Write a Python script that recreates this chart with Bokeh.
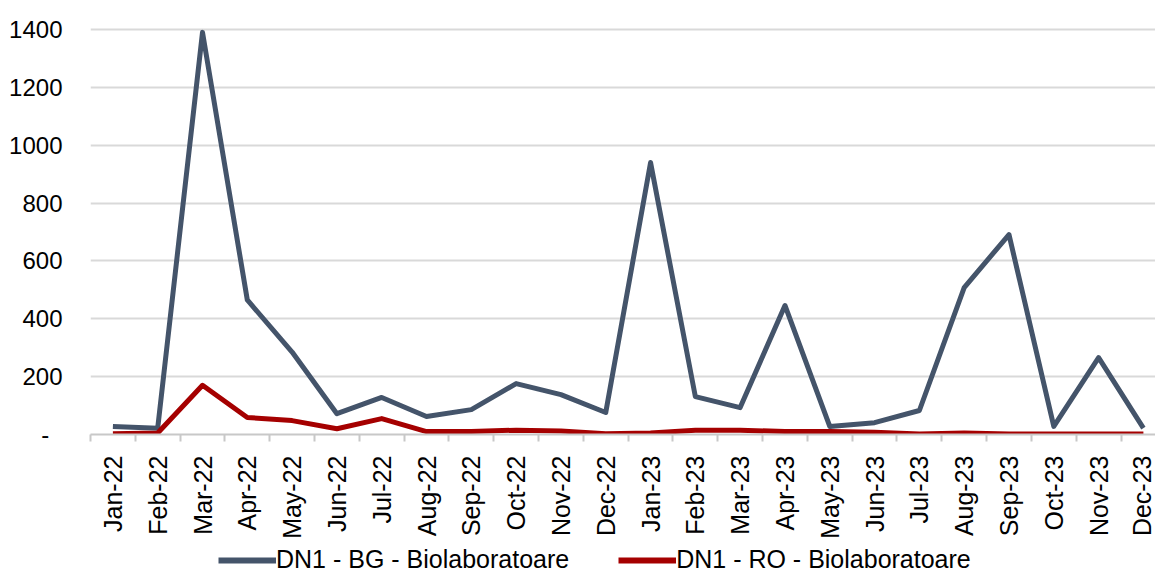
import math
from bokeh.plotting import figure
from bokeh.layouts import column
from bokeh.models import Range1d, FixedTicker, Legend, LegendItem
from bokeh.embed import file_html
from bokeh.resources import INLINE

months = ["Jan-22", "Feb-22", "Mar-22", "Apr-22", "May-22", "Jun-22", "Jul-22", "Aug-22",
          "Sep-22", "Oct-22", "Nov-22", "Dec-22", "Jan-23", "Feb-23", "Mar-23", "Apr-23",
          "May-23", "Jun-23", "Jul-23", "Aug-23", "Sep-23", "Oct-23", "Nov-23", "Dec-23"]
bg_values = [28, 22, 1390, 465, 285, 72, 128, 62, 86, 176, 138, 76,
             940, 131, 93, 446, 28, 41, 83, 508, 691, 28, 266, 22]
ro_values = [3, 5, 170, 59, 48, 20, 55, 10, 10, 15, 12, 3,
             5, 15, 15, 10, 10, 8, 2, 5, 2, 2, 2, 2]
y_ticks = [0, 200, 400, 600, 800, 1000, 1200, 1400]
series_names = ["DN1 - BG - Biolaboratoare", "DN1 - RO - Biolaboratoare"]

FONT = "Liberation Sans"
BG_COLOR = "#44546A"
RO_COLOR = "#A50000"
xs = list(range(len(months)))

p = figure(width=1155, height=542, output_backend="svg", toolbar_location=None,
           x_range=Range1d(-0.5, 23.27), y_range=Range1d(0, 1413.8),
           min_border_left=90, min_border_right=0, min_border_top=25, min_border_bottom=108)
p.outline_line_color = None
p.background_fill_color = "white"
p.border_fill_color = "white"

p.line(xs, bg_values, line_color=BG_COLOR, line_width=5, line_join="round")
p.line(xs, ro_values, line_color=RO_COLOR, line_width=5, line_join="round")

# x axis
p.xaxis.ticker = FixedTicker(ticks=xs, minor_ticks=[i - 0.5 for i in range(len(months))])
p.xaxis.major_label_overrides = {i: m for i, m in enumerate(months)}
p.xaxis.major_label_orientation = math.pi / 2
p.xaxis.major_tick_out = 0
p.xaxis.major_tick_in = 0
p.xaxis.minor_tick_out = 7
p.xaxis.minor_tick_in = 0
p.xaxis.minor_tick_line_color = "#C8C8C8"
p.xaxis.minor_tick_line_width = 2
p.xaxis.axis_line_color = "#C8C8C8"
p.xaxis.axis_line_width = 2
p.xaxis.major_label_standoff = 14
p.xaxis.major_label_text_font = FONT
p.xaxis.major_label_text_font_size = "25px"
p.xaxis.major_label_text_color = "black"
p.xgrid.visible = False

# y axis
p.yaxis.ticker = FixedTicker(ticks=y_ticks)
overrides = {t: str(t) for t in y_ticks}
overrides[0] = "-\u00a0\u00a0"
p.yaxis.major_label_overrides = overrides
p.yaxis.axis_line_color = None
p.yaxis.major_tick_line_color = None
p.yaxis.minor_tick_line_color = None
p.yaxis.major_label_standoff = 22
p.yaxis.major_label_text_font = FONT
p.yaxis.major_label_text_font_size = "24px"
p.yaxis.major_label_text_color = "black"
p.ygrid.grid_line_color = "#D9D9D9"
p.ygrid.grid_line_width = 2

# legend strip (lines drawn out of view; only legend is visible)
p2 = figure(width=1155, height=32, output_backend="svg", toolbar_location=None,
            x_range=Range1d(100, 101), y_range=Range1d(5000, 5001),
            x_axis_type=None, y_axis_type=None,
            min_border_left=0, min_border_right=0, min_border_top=0, min_border_bottom=0)
p2.outline_line_color = None
p2.grid.visible = False
l_bg = p2.line(xs, bg_values, line_color=BG_COLOR, line_width=6)
l_ro = p2.line(xs, ro_values, line_color=RO_COLOR, line_width=6)
legend = Legend(items=[LegendItem(label=series_names[0], renderers=[l_bg]),
                       LegendItem(label=series_names[1], renderers=[l_ro])],
                orientation="horizontal", location=(128, 0),
                glyph_width=58, label_standoff=0, spacing=49,
                label_text_font=FONT, label_text_font_size="25px",
                label_text_color="black",
                border_line_color=None, background_fill_alpha=0,
                padding=2, margin=0)
p2.add_layout(legend, "center")

open("out.html", "w").write(file_html(column(p, p2, spacing=0), INLINE))
